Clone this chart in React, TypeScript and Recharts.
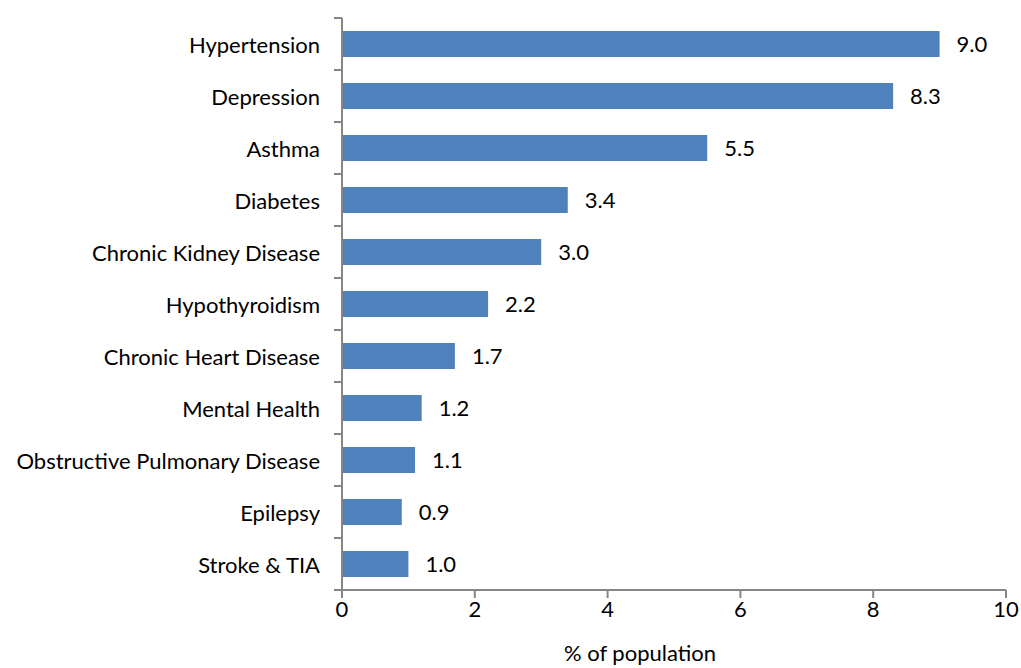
import React from "react";
import { BarChart, Bar, XAxis, YAxis, LabelList, Label } from "recharts";

const categories = [
  "Hypertension",
  "Depression",
  "Asthma",
  "Diabetes",
  "Chronic Kidney Disease",
  "Hypothyroidism",
  "Chronic Heart Disease",
  "Mental Health",
  "Obstructive Pulmonary Disease ",
  "Epilepsy",
  "Stroke & TIA",
];
const values = [9.0, 8.3, 5.5, 3.4, 3.0, 2.2, 1.7, 1.2, 1.1, 0.9, 1.0];
const xTicks = [0, 2, 4, 6, 8, 10];

const data = categories.map((c, i) => ({ name: c, value: values[i] }));

const FONT = "Lato, 'Open Sans', sans-serif";
const AXIS = "#868686";

const CategoryTick = (props: any) => {
  const { x, y, payload, index, visibleTicksCount } = props;
  const half = payload && payload.offset ? payload.offset : 26;
  const ax = x;
  return (
    <g>
      <line x1={ax - 8} x2={ax} y1={y - half} y2={y - half} stroke={AXIS} strokeWidth={2} />
      {index === (visibleTicksCount ?? categories.length) - 1 ? (
        <line x1={ax - 8} x2={ax} y1={y + half} y2={y + half} stroke={AXIS} strokeWidth={2} />
      ) : null}
      <text
        x={ax - 22}
        y={y}
        textAnchor="end"
        dominantBaseline="central"
        fontFamily={FONT}
        fontSize={22}
        fill="#000"
      >
        {payload.value}
      </text>
    </g>
  );
};

export default function App() {
  return (
    <div style={{ position: "absolute", left: 0, top: 0, background: "#fff" }}>
      <BarChart
        width={1021}
        height={668}
        data={data}
        layout="vertical"
        margin={{ top: 18, right: 15, bottom: 38, left: 0 }}
        barSize={26}
      >
        <XAxis
          type="number"
          dataKey="value"
          domain={[0, 10]}
          ticks={xTicks}
          interval={0}
          height={40}
          axisLine={{ stroke: AXIS, strokeWidth: 2 }}
          tickLine={{ stroke: AXIS, strokeWidth: 2 }}
          tickSize={8}
          tickMargin={3}
          tick={{ fontFamily: FONT, fontSize: 22, fill: "#000" }}
        >
          <Label
            content={(p: any) => {
              const vb = p.viewBox || {};
              return (
                <text
                  x={640}
                  y={(vb.y ?? 590) + 71}
                  textAnchor="middle"
                  fontFamily={FONT}
                  fontSize={22}
                  fill="#000"
                >
                  % of population
                </text>
              );
            }}
          />
        </XAxis>
        <YAxis
          type="category"
          dataKey="name"
          width={342}
          interval={0}
          axisLine={{ stroke: AXIS, strokeWidth: 2 }}
          tickLine={false}
          tickSize={0}
          tickMargin={0}
          tick={<CategoryTick />}
        />
        <Bar dataKey="value" fill="#4F81BD" isAnimationActive={false}>
          <LabelList
            dataKey="value"
            position="right"
            offset={17}
            formatter={(v: any) => Number(v).toFixed(1)}
            style={{ fontFamily: FONT, fontSize: 22, fill: "#000" }}
          />
        </Bar>
      </BarChart>
    </div>
  );
}
